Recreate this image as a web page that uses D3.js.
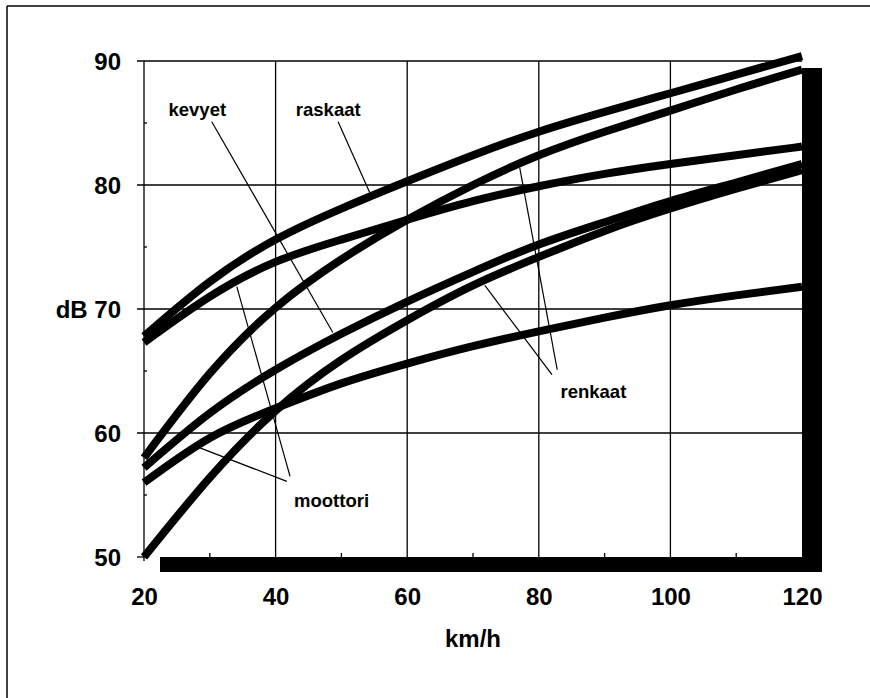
<!DOCTYPE html>
<html>
<head>
<meta charset="utf-8">
<script src="https://cdn.jsdelivr.net/npm/d3@7"></script>
<style>
  html, body { margin: 0; padding: 0; background: #fff; }
  svg { display: block; }
  text { font-family: "Liberation Sans", Arial, Helvetica, sans-serif; font-weight: bold; fill: #000; }
</style>
</head>
<body>
<svg id="chart" width="870" height="698"></svg>
<script>
// Speed in km/h at which each curve is sampled
const speeds = [20, 30, 40, 50, 60, 70, 80, 90, 100, 110, 120];

// Noise level (dB) per source and vehicle class
const raskaatYht     = [67.8, 72.2, 75.6, 78.1, 80.3, 82.4, 84.3, 85.9, 87.4, 88.9, 90.4];
const raskaatMoott   = [67.3, 71.0, 73.8, 75.6, 77.2, 78.7, 79.9, 80.9, 81.7, 82.4, 83.1];
const raskaatRenk    = [58.0, 64.8, 70.1, 74.0, 77.2, 80.0, 82.4, 84.3, 86.0, 87.7, 89.3];
const kevyetYht      = [57.2, 61.6, 65.1, 68.0, 70.6, 73.0, 75.2, 77.0, 78.7, 80.2, 81.7];
const kevyetRenk     = [50.0, 56.4, 61.8, 65.9, 69.1, 71.9, 74.2, 76.3, 78.1, 79.7, 81.2];
const kevyetMoott    = [56.0, 59.6, 62.0, 64.0, 65.6, 67.0, 68.2, 69.3, 70.3, 71.1, 71.8];

const seriesList = [raskaatYht, raskaatMoott, raskaatRenk, kevyetYht, kevyetRenk, kevyetMoott];

// Axis ticks
const xTicks = [20, 40, 60, 80, 100, 120];
const xMinorTicks = [30, 50, 70, 90, 110];
const yTicks = [50, 60, 70, 80, 90];
const yTickLabels = ["50", "60", "dB 70", "80", "90"];
const yMinorTicks = [55, 65, 75, 85];

// Curve labels with leader lines, in data units [km/h, dB]
const labelNames = ["kevyet", "raskaat", "renkaat", "moottori"];
const labelAt = [[28.1, 85.6], [48.0, 85.6], [88.3, 62.8], [48.5, 54.0]];
const leaders = [
  [[[30.3, 85.1], [48.7, 68.1]]],
  [[[49.5, 85.1], [54.3, 79.4]]],
  [[[82.0, 64.7], [71.8, 71.9]], [[82.8, 65.1], [77.1, 81.4]]],
  [[[42.2, 56.5], [34.1, 71.8]], [[41.7, 56.1], [28.5, 58.8]]]
];

const svg = d3.select("#chart");

// Outer frame (top and left edges)
svg.append("line").attr("x1", 7).attr("y1", 6).attr("x2", 870).attr("y2", 6)
  .attr("stroke", "#000").attr("stroke-width", 1.5);
svg.append("line").attr("x1", 7).attr("y1", 6).attr("x2", 7).attr("y2", 698)
  .attr("stroke", "#000").attr("stroke-width", 1.5);

const x = d3.scaleLinear().domain([20, 120]).range([144, 802]);
const y = d3.scaleLinear().domain([50, 90]).range([557, 61]);

const [x0, x1] = x.range();
const [yb, yt] = y.range();

// Drop shadow behind the plot area
svg.append("rect")
  .attr("x", x0 + 16).attr("y", yt + 7)
  .attr("width", x1 - x0 + 4).attr("height", yb - yt + 8)
  .attr("fill", "#000");
svg.append("rect")
  .attr("x", x0).attr("y", yt)
  .attr("width", x1 - x0).attr("height", yb - yt)
  .attr("fill", "#fff");

// Grid
const grid = svg.append("g").attr("stroke", "#000").attr("stroke-width", 1.3);
grid.selectAll(".hg").data(yTicks.filter(d => d > 50)).join("line")
  .attr("x1", x0 - 7).attr("x2", x1)
  .attr("y1", d => y(d)).attr("y2", d => y(d));
grid.selectAll(".vg").data(xTicks.filter(d => d > 20 && d < 120)).join("line")
  .attr("x1", d => x(d)).attr("x2", d => x(d))
  .attr("y1", yt).attr("y2", yb);
grid.append("line").attr("x1", x0).attr("x2", x0).attr("y1", yt).attr("y2", yb + 4);
grid.append("line").attr("x1", x0 - 7).attr("x2", x0).attr("y1", yb).attr("y2", yb);
grid.selectAll(".ym").data(yMinorTicks).join("line")
  .attr("x1", x0).attr("x2", x0 + 3)
  .attr("y1", d => y(d)).attr("y2", d => y(d));
grid.selectAll(".xm").data(xMinorTicks).join("line")
  .attr("x1", d => x(d)).attr("x2", d => x(d))
  .attr("y1", yb).attr("y2", yb - 4);

// Axis labels
const yAxis = d3.axisLeft(y).tickValues(yTicks)
  .tickFormat((d, i) => yTickLabels[i]).tickSize(0).tickPadding(23);
const gy = svg.append("g").attr("transform", `translate(${x0},0)`).call(yAxis);
gy.select(".domain").remove();
gy.selectAll("text").attr("font-size", 24).attr("font-family", null).attr("dy", "0.34em");

const xAxis = d3.axisBottom(x).tickValues(xTicks).tickSize(0).tickPadding(31);
const gx = svg.append("g").attr("transform", `translate(0,${yb})`).call(xAxis);
gx.select(".domain").remove();
gx.selectAll("text").attr("font-size", 24).attr("font-family", null);

svg.append("text")
  .attr("x", x(70)).attr("y", 647)
  .attr("text-anchor", "middle").attr("font-size", 24)
  .text("km/h");

// Leader lines
const leaderG = svg.append("g").attr("stroke", "#000").attr("stroke-width", 1.2);
leaders.forEach(group => {
  group.forEach(seg => {
    leaderG.append("line")
      .attr("x1", x(seg[0][0])).attr("y1", y(seg[0][1]))
      .attr("x2", x(seg[1][0])).attr("y2", y(seg[1][1]));
  });
});

// Curves
const line = d3.line()
  .x((d, i) => x(speeds[i]))
  .y(d => y(d))
  .curve(d3.curveNatural);

svg.append("g").selectAll("path").data(seriesList).join("path")
  .attr("d", line)
  .attr("fill", "none")
  .attr("stroke", "#000")
  .attr("stroke-width", 8);

// Curve labels
svg.append("g").selectAll("text").data(labelNames).join("text")
  .attr("x", (d, i) => x(labelAt[i][0]))
  .attr("y", (d, i) => y(labelAt[i][1]))
  .attr("text-anchor", "middle")
  .attr("font-size", 18.5)
  .text(d => d);
</script>
</body>
</html>
